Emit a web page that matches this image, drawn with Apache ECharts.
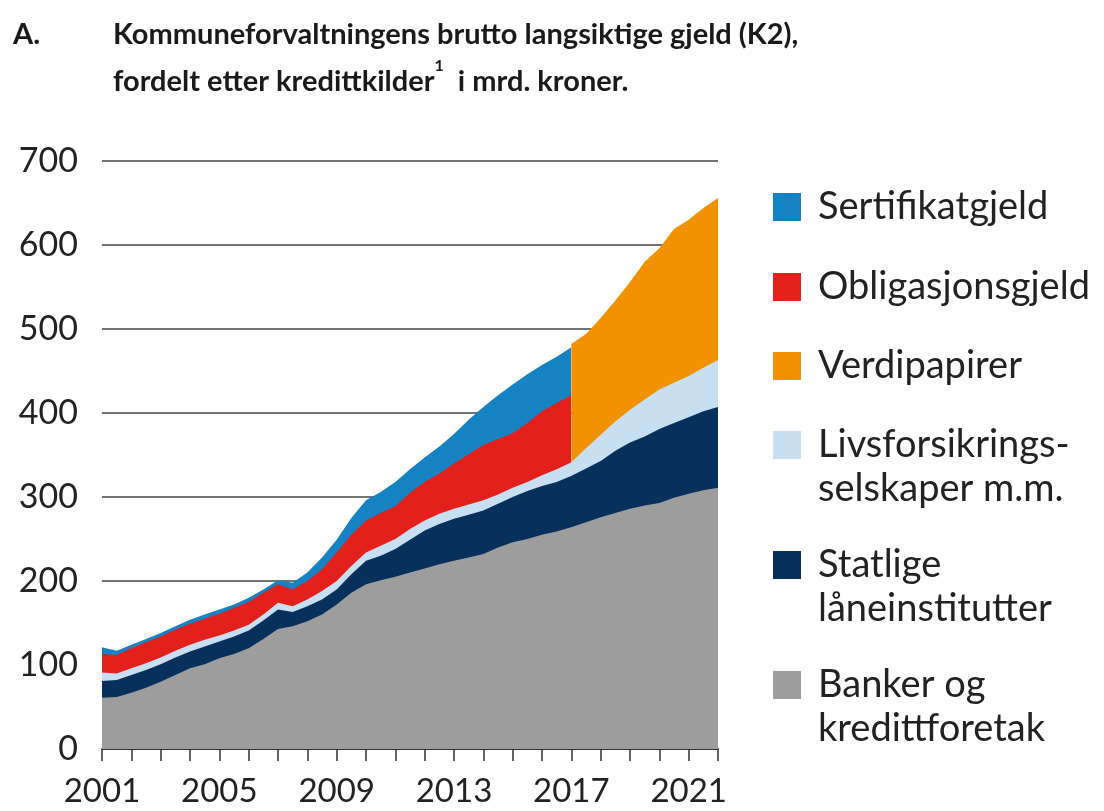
<!DOCTYPE html>
<html>
<head>
<meta charset="utf-8">
<script src="https://cdn.jsdelivr.net/npm/echarts@6/dist/echarts.min.js"></script>
<style>
  html, body { margin: 0; padding: 0; background: #fff; }
  #chart { width: 1104px; height: 811px; }
</style>
</head>
<body>
<div id="chart"></div>
<script>
// half-year points; 2016.99 / 2017 gives the break where Verdipapirer replaces the two bond series
const dates = [2001, 2001.5, 2002, 2002.5, 2003, 2003.5, 2004, 2004.5, 2005, 2005.5,
  2006, 2006.5, 2007, 2007.5, 2008, 2008.5, 2009, 2009.5, 2010, 2010.5,
  2011, 2011.5, 2012, 2012.5, 2013, 2013.5, 2014, 2014.5, 2015, 2015.5,
  2016, 2016.5, 2016.99, 2017, 2017.5, 2018, 2018.5, 2019, 2019.5, 2020,
  2020.5, 2021, 2021.5, 2022];

const banker = [61, 62, 67, 73, 80, 88, 96, 101, 108, 113,
  120, 131, 143, 146, 152, 160, 172, 186, 196, 201,
  205, 210, 215, 220, 224, 228, 232, 240, 246, 250,
  255, 259, 264, 264, 270, 276, 281, 286, 290, 293,
  299, 304, 308, 311];
const statlige = [20, 20, 21, 21, 21, 21, 20, 21, 20, 21,
  21, 22, 23, 17, 18, 18, 18, 22, 28, 29,
  33, 39, 45, 48, 50, 51, 52, 52, 54, 57,
  58, 59, 61, 61, 64, 67, 74, 79, 82, 88,
  89, 91, 94, 96];
const livsforsikring = [10, 8, 8, 8, 8, 8, 8, 8, 7, 7,
  7, 7, 8, 7, 8, 10, 10, 10, 10, 12,
  12, 13, 12, 12, 12, 12, 12, 11, 11, 11,
  13, 15, 16, 18, 24, 31, 35, 39, 44, 47,
  48, 49, 52, 56];
const verdipapirer = [0, 0, 0, 0, 0, 0, 0, 0, 0, 0,
  0, 0, 0, 0, 0, 0, 0, 0, 0, 0,
  0, 0, 0, 0, 0, 0, 0, 0, 0, 0,
  0, 0, 0, 139, 136, 139, 144, 152, 164, 168,
  183, 186, 190, 193];
const obligasjon = [22, 22, 24, 25, 25, 25, 25, 25, 26, 27,
  27, 26, 22, 20, 22, 26, 34, 37, 38, 39,
  39, 43, 46, 48, 54, 60, 66, 66, 65, 70,
  76, 79, 80, 0, 0, 0, 0, 0, 0, 0,
  0, 0, 0, 0];
const sertifikat = [8, 5, 4, 4, 4, 4, 5, 5, 5, 4,
  5, 4, 5, 8, 10, 14, 15, 20, 24, 25,
  29, 28, 29, 32, 35, 41, 45, 52, 58, 58,
  55, 55, 57, 0, 0, 0, 0, 0, 0, 0,
  0, 0, 0, 0];

const yTicks = [0, 100, 200, 300, 400, 500, 600, 700];

const FONT = 'Lato';
const BREAK = 2017;   // Verdipapirer from here on, the two bond series before it

// bottom to top; 'when' says on which side of the break the series exists
const seriesDefs = [
  { name: 'Banker og kredittforetak', values: banker, color: '#9d9d9d', when: 'all' },
  { name: 'Statlige låneinstitutter', values: statlige, color: '#08305d', when: 'all' },
  { name: 'Livsforsikringsselskaper m.m.', values: livsforsikring, color: '#c8dff1', when: 'all' },
  { name: 'Verdipapirer', values: verdipapirer, color: '#f39200', when: 'after' },
  { name: 'Obligasjonsgjeld', values: obligasjon, color: '#e3201b', when: 'before' },
  { name: 'Sertifikatgjeld', values: sertifikat, color: '#1583c3', when: 'before' }
];

// legend: name, first line, second line, centre of the square
const legendRows = [
  ['Sertifikatgjeld', 'Sertifikatgjeld', '', 206],
  ['Obligasjonsgjeld', 'Obligasjonsgjeld', '', 286],
  ['Verdipapirer', 'Verdipapirer', '', 365],
  ['Livsforsikringsselskaper m.m.', 'Livsforsikrings-', 'selskaper m.m.', 444],
  ['Statlige låneinstitutter', 'Statlige', 'låneinstitutter', 564],
  ['Banker og kredittforetak', 'Banker og', 'kredittforetak', 684]
];

const chart = echarts.init(document.getElementById('chart'));

const SQ = 28;      // legend square
const LEG_FS = 38;

// the layers are painted top-down, each filled from the axis, so every layer
// needs its running total; a value axis on x keeps the vertical edge at the break
let running = dates.map(() => 0);
const layers = seriesDefs.map((s) => {
  running = running.map((v, i) => v + s.values[i]);
  const keep = (d) => s.when === 'all' || (s.when === 'after' ? d >= BREAK : d < BREAK);
  return {
    name: s.name,
    color: s.color,
    data: dates.map((d, i) => [d, running[i]]).filter((p) => keep(p[0]))
  };
});

const legends = legendRows.map(([name, first, second, cy]) => ({
  data: [name],
  left: 773,
  top: cy - SQ / 2 - 4,
  padding: 0,
  orient: 'vertical',
  icon: 'rect',
  itemWidth: SQ,
  itemHeight: SQ,
  selectedMode: false,
  formatter: () => first,
  textStyle: { fontFamily: FONT, fontSize: LEG_FS, color: '#222', lineHeight: SQ, padding: [0, 0, 0, 12] }
}));

const secondLines = legendRows.filter((r) => r[2]).map(([name, first, second, cy]) => ({
  type: 'text',
  z: 100,
  style: {
    x: 818,
    y: cy + 45,
    text: second,
    fontFamily: FONT,
    fontSize: LEG_FS,
    fill: '#222',
    verticalAlign: 'middle'
  }
}));

const option = {
  animation: false,
  backgroundColor: '#fff',
  title: [
    {
      text: 'A.',
      left: 13,
      top: 11,
      padding: 0,
      textStyle: { fontFamily: FONT, fontSize: 29, fontWeight: 'bold', color: '#1a1a1a', lineHeight: 47 }
    },
    {
      text: 'Kommuneforvaltningens brutto langsiktige gjeld (K2),\nfordelt etter kredittkilder{sup|1}  i mrd. kroner.',
      left: 113,
      top: 11,
      padding: 0,
      textStyle: {
        fontFamily: FONT, fontSize: 29, fontWeight: 'bold', color: '#1a1a1a', lineHeight: 47,
        rich: {
          sup: { fontFamily: FONT, fontSize: 16, fontWeight: 'bold', color: '#1a1a1a', lineHeight: 34, verticalAlign: 'top' }
        }
      }
    }
  ],
  legend: legends,
  graphic: secondLines,
  grid: { left: 102, right: 386, top: 161, bottom: 62, outerBoundsMode: 'none' },
  xAxis: {
    type: 'value',
    min: 2001,
    max: 2022,
    interval: 1,
    axisLine: { show: true, lineStyle: { color: '#333', width: 2 } },
    axisTick: { show: true, inside: false, length: 12, lineStyle: { color: '#333', width: 1.5 } },
    splitLine: { show: false },
    axisLabel: {
      fontFamily: FONT,
      fontSize: 33,
      color: '#222',
      margin: 26,
      formatter: (v) => ((v - 2001) % 4 === 0 ? String(v) : '')
    }
  },
  yAxis: {
    type: 'value',
    min: yTicks[0],
    max: yTicks[yTicks.length - 1],
    interval: 100,
    axisLine: { show: false },
    axisTick: { show: false },
    splitLine: { show: true, lineStyle: { color: '#444', width: 1.5 } },
    axisLabel: { fontFamily: FONT, fontSize: 34, color: '#222', margin: 24 }
  },
  // top layer first, lower layers painted over it
  series: layers.slice().reverse().map((l) => ({
    name: l.name,
    type: 'line',
    symbol: 'none',
    showSymbol: false,
    color: l.color,
    lineStyle: { width: 0 },
    areaStyle: { color: l.color, opacity: 1, origin: 'start' },
    data: l.data
  }))
};

chart.setOption(option);
</script>
</body>
</html>
